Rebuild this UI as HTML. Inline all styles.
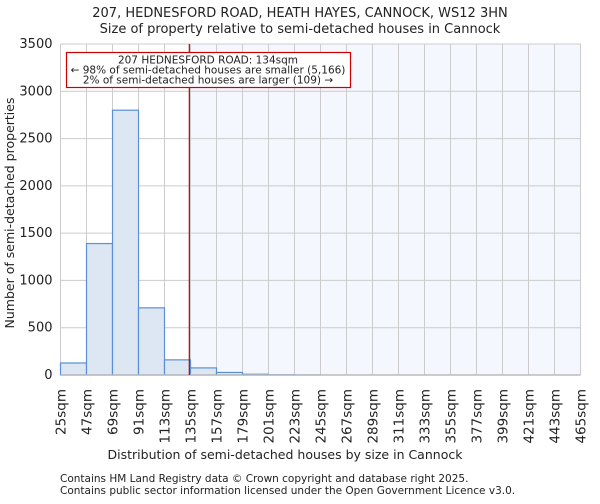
<!DOCTYPE html>
<html><head><meta charset="utf-8"><style>
body{margin:0;background:#fff;font-family:"DejaVu Sans","Liberation Sans",sans-serif;}
svg text{font-family:"DejaVu Sans","Liberation Sans",sans-serif;fill:#222;}
</style></head><body>
<svg id="c" width="600" height="500" viewBox="0 0 600 500">
<text x="300" y="17" font-size="13" text-anchor="middle">207, HEDNESFORD ROAD, HEATH HAYES, CANNOCK, WS12 3HN</text>
<text x="300" y="33" font-size="13" text-anchor="middle">Size of property relative to semi-detached houses in Cannock</text>
<g id="plot"></g>
<text x="285" y="459" font-size="12.5" text-anchor="middle">Distribution of semi-detached houses by size in Cannock</text>
<text transform="translate(14,213) rotate(-90)" font-size="12.5" text-anchor="middle">Number of semi-detached properties</text>
<text x="60" y="482" font-size="10.5">Contains HM Land Registry data © Crown copyright and database right 2025.</text>
<text x="60" y="494" font-size="10.5">Contains public sector information licensed under the Open Government Licence v3.0.</text>
</svg>
<script>
const binStarts=[25,47,69,91,113,135,157,179,201,223,245,267,289,311,333,355,377,399,421,443];
const counts=[127,1390,2800,710,160,75,27,8,3,1,0,0,0,0,0,0,0,0,0,0];
const yTicks=[0,500,1000,1500,2000,2500,3000,3500];
const xTickLabels=["25sqm","47sqm","69sqm","91sqm","113sqm","135sqm","157sqm","179sqm","201sqm","223sqm","245sqm","267sqm","289sqm","311sqm","333sqm","355sqm","377sqm","399sqm","421sqm","443sqm","465sqm"];
const propertySize=134;
const NS="http://www.w3.org/2000/svg";
const L=60.5,R=580.5,T=44,B=375,xmin=25,xmax=465,ymax=3500;
const xs=v=>L+(v-xmin)/(xmax-xmin)*(R-L);
const ys=v=>B-v/ymax*(B-T);
const g=document.getElementById('plot');
function mk(t,a){const e=document.createElementNS(NS,t);for(const k in a)e.setAttribute(k,a[k]);g.appendChild(e);return e;}
const px=xs(propertySize);
let e=mk('rect',{x:px,y:T,width:R-px,height:B-T,fill:'#f4f7fe'});


yTicks.forEach(v=>{let l=mk('line',{x1:L,x2:R,y1:ys(v),y2:ys(v),stroke:'#ccc'});


let t=mk('text',{x:L-8,y:ys(v)+4,'font-size':13,'text-anchor':'end'});t.textContent=v;

});
xTickLabels.forEach((s,i)=>{const v=xmin+i*22;const x=xs(v);
let l=mk('line',{x1:x,x2:x,y1:T,y2:B,stroke:'#ccc'});


let t=mk('text',{transform:`translate(${x+5},${B+14}) rotate(-90)`,'font-size':13.5,'text-anchor':'end'});t.textContent=s;

});
binStarts.forEach((b,i)=>{const x0=xs(b),x1=xs(b+22),y=ys(counts[i]);
let r=mk('rect',{x:x0,y:y,width:x1-x0,height:B-y,fill:'#dde6f3',stroke:'#5b8fd6','stroke-width':1.2});

});
let ax=mk('line',{x1:L,x2:R,y1:B,y2:B,stroke:'#bbb','stroke-width':1.5});


let pl=mk('line',{x1:px,x2:px,y1:T,y2:B,stroke:'#b00','stroke-width':1.2});


let box=mk('rect',{x:66.5,y:52.5,width:284,height:35,fill:'#fff',stroke:'#c00','stroke-width':1.2});


["207 HEDNESFORD ROAD: 134sqm","← 98% of semi-detached houses are smaller (5,166)","2% of semi-detached houses are larger (109) →"].forEach((s,i)=>{
let t=mk('text',{x:208,y:63.5+i*10,'font-size':10.5,'text-anchor':'middle'});t.textContent=s;

});
</script>
</body></html>
